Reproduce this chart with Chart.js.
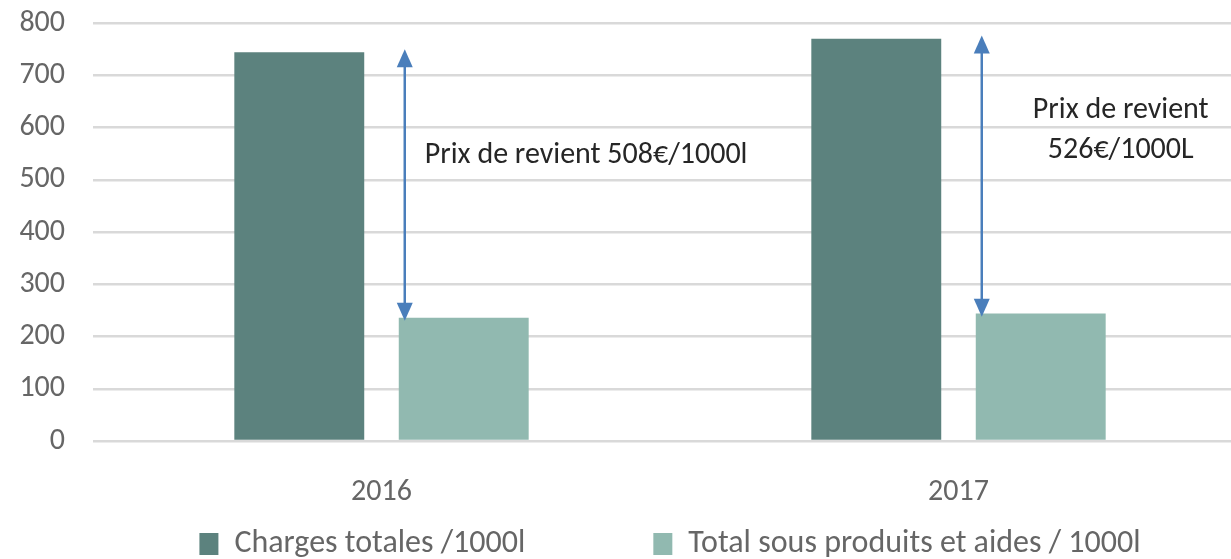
<!DOCTYPE html>
<html>
<head>
<meta charset="utf-8">
<script src="https://cdn.jsdelivr.net/npm/chart.js@4/dist/chart.umd.min.js"></script>
<style>
  html, body { margin: 0; padding: 0; background: #fff; overflow: hidden; }
  #wrap { width: 1300px; height: 570px; }
</style>
</head>
<body>
<div id="wrap"><canvas id="chart"></canvas></div>
<script>
// Data
const years = ['2016', '2017'];
const chargesTotales = [744, 770];
const sousProduits = [236, 244];
const prixLabels = [['Prix de revient 508€/1000l'], ['Prix de revient', '526€/1000L']];
const yTicks = [0, 100, 200, 300, 400, 500, 600, 700, 800];

const FONT = "Carlito, Calibri, Lato, 'Noto Sans', sans-serif";
const GREY = '#666666';

// Double arrows between the two bars + the "prix de revient" text
const arrowPlugin = {
    id: 'prixArrows',
    afterDatasetsDraw(chart) {
        const ctx = chart.ctx;
        const y = chart.scales.y;
        const light = chart.getDatasetMeta(1).data;
        ctx.save();
        years.forEach((yr, i) => {
            const bar = light[i];
            const x = bar.x - bar.width / 2 + 6;
            const yTop = y.getPixelForValue(chargesTotales[i] + 6);
            const yBot = y.getPixelForValue(sousProduits[i] - 6);
            ctx.strokeStyle = '#4a7ebb';
            ctx.fillStyle = '#4a7ebb';
            ctx.lineWidth = 2.5;
            ctx.beginPath();
            ctx.moveTo(x, yTop + 14);
            ctx.lineTo(x, yBot - 14);
            ctx.stroke();
            // heads
            ctx.beginPath();
            ctx.moveTo(x, yTop);
            ctx.lineTo(x - 8, yTop + 18);
            ctx.lineTo(x + 8, yTop + 18);
            ctx.closePath();
            ctx.fill();
            ctx.beginPath();
            ctx.moveTo(x, yBot);
            ctx.lineTo(x - 8, yBot - 18);
            ctx.lineTo(x + 8, yBot - 18);
            ctx.closePath();
            ctx.fill();

            ctx.fillStyle = '#262626';
            ctx.font = '30px ' + FONT;
            ctx.textBaseline = 'middle';
            const lines = prixLabels[i];
            if (lines.length === 1) {
                ctx.textAlign = 'left';
                ctx.fillText(lines[0], x + 20, y.getPixelForValue(547));
            } else {
                ctx.textAlign = 'center';
                const cx = bar.x + 80;
                ctx.fillText(lines[0], cx, y.getPixelForValue(633));
                ctx.fillText(lines[1], cx, y.getPixelForValue(556));
            }
        });
        ctx.restore();
    }
};

const chart = new Chart(document.getElementById('chart'), {
    type: 'bar',
    data: {
        labels: years,
        datasets: [
            {
                label: 'Charges totales /1000l',
                data: chargesTotales,
                backgroundColor: '#5c827e',
                categoryPercentage: 0.57,
                barPercentage: 0.79
            },
            {
                label: 'Total sous produits et aides / 1000l',
                data: sousProduits,
                backgroundColor: '#91b9b0',
                categoryPercentage: 0.57,
                barPercentage: 0.79
            }
        ]
    },
    options: {
        responsive: true,
        maintainAspectRatio: false,
        animation: false,
        layout: { padding: { top: 23, right: 53, left: 12, bottom: 0 } },
        plugins: {
            legend: {
                position: 'bottom',
                fullSize: false,
                labels: {
                    color: GREY,
                    font: { family: FONT, size: 32 },
                    boxWidth: 19,
                    boxHeight: 22,
                    padding: 0,
                    generateLabels(c) {
                        const items = Chart.defaults.plugins.legend.labels.generateLabels(c);
                        // wide gap between the two entries
                        items[0].text += '\u2003\u2003\u2003\u2003';
                        return items;
                    }
                }
            },
            tooltip: { enabled: false }
        },
        scales: {
            x: {
                grid: { display: false },
                border: { display: false },
                ticks: { color: GREY, font: { family: FONT, size: 30 }, padding: 25 },
                afterFit(s) { s.height = 87; }
            },
            y: {
                min: 0,
                max: 800,
                afterBuildTicks(s) { s.ticks = yTicks.map(v => ({ value: v })); },
                grid: { color: '#d9d9d9', lineWidth: 2.5, drawTicks: false },
                border: { display: false },
                ticks: { color: GREY, font: { family: FONT, size: 30 }, padding: 28 },
                afterFit(s) {
                    s.width = 81;
                    s.paddingTop = 0;
                    s.paddingBottom = 0;
                }
            }
        }
    },
    plugins: [arrowPlugin]
});
</script>
</body>
</html>
